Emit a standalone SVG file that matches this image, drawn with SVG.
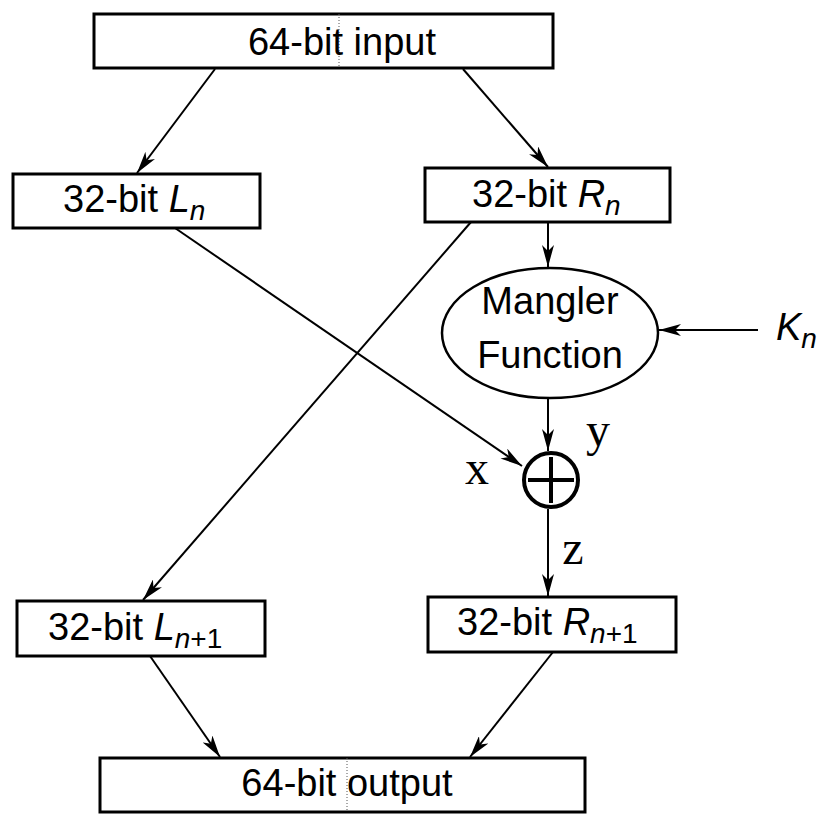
<svg xmlns="http://www.w3.org/2000/svg" width="821" height="815" viewBox="0 0 821 815">
  <defs>
    <marker id="arr" viewBox="0 0 22 12" refX="22" refY="6" markerWidth="22" markerHeight="12" markerUnits="userSpaceOnUse" orient="auto">
      <path d="M0,0 L22,6 L0,12 L6,6 Z" fill="#000"/>
    </marker>
  </defs>
  <style>
    .box { fill: #fff; stroke: #000; stroke-width: 3; }
    .lbl { font-family: "Liberation Sans", Arial, sans-serif; font-size: 38px; fill: #000; }
    .sub { font-size: 28px; }
    .it { font-style: italic; }
    .var { font-family: "Liberation Serif", "Times New Roman", serif; font-size: 48px; fill: #000; }
    .edge { fill: none; stroke: #000; stroke-width: 2; marker-end: url(#arr); }
    .dots { stroke: #555; stroke-width: 1; stroke-dasharray: 1 2; }
  </style>
  <rect width="821" height="815" fill="#fff"/>

  <g id="connectors">
    <line class="edge" x1="215" y1="69" x2="137" y2="173"/>
    <line class="edge" x1="463" y1="69" x2="548" y2="167"/>
    <line class="edge" x1="548" y1="222" x2="548" y2="267"/>
    <line class="edge" x1="758" y1="330" x2="659" y2="330"/>
    <line class="edge" x1="548" y1="398" x2="548" y2="451"/>
    <line class="edge" x1="175" y1="228" x2="522" y2="466"/>
    <line class="edge" x1="471" y1="222" x2="143" y2="600"/>
    <line class="edge" x1="548" y1="509" x2="548" y2="596"/>
    <line class="edge" x1="150" y1="656" x2="220" y2="757"/>
    <line class="edge" x1="553" y1="652" x2="470" y2="757"/>
  </g>

  <g id="input">
    <rect class="box" x="94" y="14" width="459" height="54"/>
    <line class="dots" x1="339" y1="14" x2="339" y2="68"/>
    <text class="lbl" x="342" y="55" text-anchor="middle">64-bit input</text>
  </g>

  <g id="Ln">
    <rect class="box" x="13" y="174" width="247" height="54"/>
    <text class="lbl" x="63" y="212">32-bit <tspan class="it">L</tspan><tspan class="sub it" dy="8">n</tspan></text>
  </g>

  <g id="Rn">
    <rect class="box" x="425" y="168" width="245" height="54"/>
    <text class="lbl" x="472" y="207">32-bit <tspan class="it">R</tspan><tspan class="sub it" dy="8">n</tspan></text>
  </g>

  <g id="mangler">
    <ellipse cx="550" cy="333" rx="108" ry="65" fill="#fff" stroke="#000" stroke-width="2.5"/>
    <text class="lbl" x="550" y="314" text-anchor="middle">Mangler</text>
    <text class="lbl" x="550" y="368" text-anchor="middle">Function</text>
  </g>

  <g id="Kn">
    <text class="lbl" x="776" y="340"><tspan class="it">K</tspan><tspan class="sub it" dy="8">n</tspan></text>
  </g>

  <g id="xor">
    <circle cx="551" cy="480" r="27" fill="#fff" stroke="#000" stroke-width="4"/>
    <line x1="528" y1="480" x2="574" y2="480" stroke="#000" stroke-width="4"/>
    <line x1="551" y1="457" x2="551" y2="503" stroke="#000" stroke-width="4"/>
    <text class="var" x="477" y="484" text-anchor="middle">x</text>
    <text class="var" x="598" y="446" text-anchor="middle">y</text>
    <text class="var" x="573" y="564" text-anchor="middle">z</text>
  </g>

  <g id="Ln1">
    <rect class="box" x="17" y="601" width="248" height="55"/>
    <text class="lbl" x="48" y="640">32-bit <tspan class="it">L</tspan><tspan class="sub it" dy="8">n</tspan><tspan class="sub">+1</tspan></text>
  </g>

  <g id="Rn1">
    <rect class="box" x="428" y="597" width="248" height="55"/>
    <text class="lbl" x="457" y="635">32-bit <tspan class="it">R</tspan><tspan class="sub it" dy="8">n</tspan><tspan class="sub">+1</tspan></text>
  </g>

  <g id="output">
    <rect class="box" x="100" y="758" width="485" height="54"/>
    <line class="dots" x1="347" y1="758" x2="347" y2="812"/>
    <text class="lbl" x="347" y="796" text-anchor="middle">64-bit output</text>
  </g>
</svg>
